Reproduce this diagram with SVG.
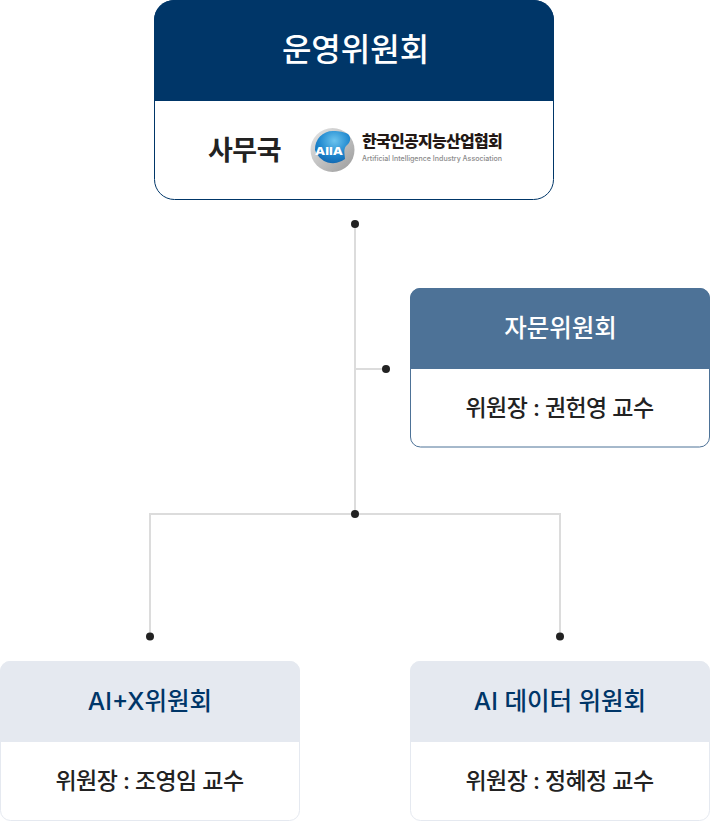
<svg xmlns="http://www.w3.org/2000/svg" width="710" height="821" viewBox="0 0 710 821">
<style>
text{font-family:Inter,"Noto Sans CJK KR","Noto Sans",sans-serif;text-anchor:middle}
.line{fill:none;stroke:#dcdcdc;stroke-width:2}
.dot{fill:#222}
.sub{font-size:23px;font-weight:500;fill:#222;letter-spacing:-.55px}
.title{font-size:24.500px;font-weight:500}
</style>
<defs>
<linearGradient id="ring" x1="0" y1="0" x2="1" y2="1"><stop offset="0" stop-color="#e8e8e8"/><stop offset="1" stop-color="#9a9a9a"/></linearGradient>
<radialGradient id="ball" cx=".55" cy=".3" r=".8"><stop offset="0" stop-color="#6cc4ee"/><stop offset=".55" stop-color="#1f88cf"/><stop offset="1" stop-color="#0f5fa8"/></radialGradient>
</defs>
<g id="connectors">
<path class="line" d="M355 224V514M355 369H386M150 636.500V514H560V636.500"/>
<circle class="dot" cx="355" cy="224" r="4"/>
<circle class="dot" cx="386" cy="369" r="4"/>
<circle class="dot" cx="355" cy="514" r="4"/>
<circle class="dot" cx="150" cy="636.500" r="4"/>
<circle class="dot" cx="560" cy="636.500" r="4"/>
</g>
<g id="node-steering">
<rect x="154.500" y="0.500" width="399" height="199" rx="20" fill="#fff" stroke="#003668"/>
<path d="M174 0H534A20 20 0 0 1 554 20V101H154V20A20 20 0 0 1 174 0Z" fill="#003668"/>
<text x="355.500" y="61" font-size="32" font-weight="500" fill="#fff">운영위원회</text>
<text x="244.500" y="160" font-size="27" font-weight="700" fill="#222" letter-spacing="-.5">사무국</text>
<circle cx="332.500" cy="150" r="22" fill="url(#ring)"/>
<path d="M315 150A18 18 0 0 1 333 131C340 131 344 132 348 134C352 138 350 143 346 146C343 150 345 155 345 159A19 19 0 0 1 315 150Z" fill="url(#ball)"/>
<text x="329" y="155" font-size="11" font-weight="800" fill="#fff" textLength="28" lengthAdjust="spacingAndGlyphs">AIIA</text>
<text x="432" y="147" font-size="16" font-weight="900" fill="#231815" letter-spacing="-.7">한국인공지능산업협회</text>
<text x="432" y="160.500" font-size="7.100" font-weight="500" fill="#8a8a8a" textLength="140" lengthAdjust="spacingAndGlyphs">Artificial Intelligence Industry Association</text>
</g>
<g id="node-advisory">
<rect x="410.500" y="288.500" width="299" height="158.500" rx="10" fill="#fff" stroke="#4d7297"/>
<path d="M420 288H700A10 10 0 0 1 710 298V369H410V298A10 10 0 0 1 420 288Z" fill="#4d7297"/>
<text x="560.500" y="337" class="title" fill="#fff">자문위원회</text>
<text x="559.500" y="416" class="sub">위원장 : 권헌영 교수</text>
</g>
<g id="node-aix">
<rect x="0.500" y="661.500" width="299" height="159" rx="10" fill="#fff" stroke="#e5e9f0"/>
<path d="M10 661H290A10 10 0 0 1 300 671V742H0V671A10 10 0 0 1 10 661Z" fill="#e5e9f0"/>
<text x="150" y="709.500" class="title" fill="#003668">AI+X위원회</text>
<text x="149.500" y="789" class="sub">위원장 : 조영임 교수</text>
</g>
<g id="node-aidata">
<rect x="410.500" y="661.500" width="299" height="159" rx="10" fill="#fff" stroke="#e5e9f0"/>
<path d="M420 661H700A10 10 0 0 1 710 671V742H410V671A10 10 0 0 1 420 661Z" fill="#e5e9f0"/>
<text x="560" y="709.500" class="title" fill="#003668">AI 데이터 위원회</text>
<text x="559.500" y="789" class="sub">위원장 : 정혜정 교수</text>
</g>
</svg>
